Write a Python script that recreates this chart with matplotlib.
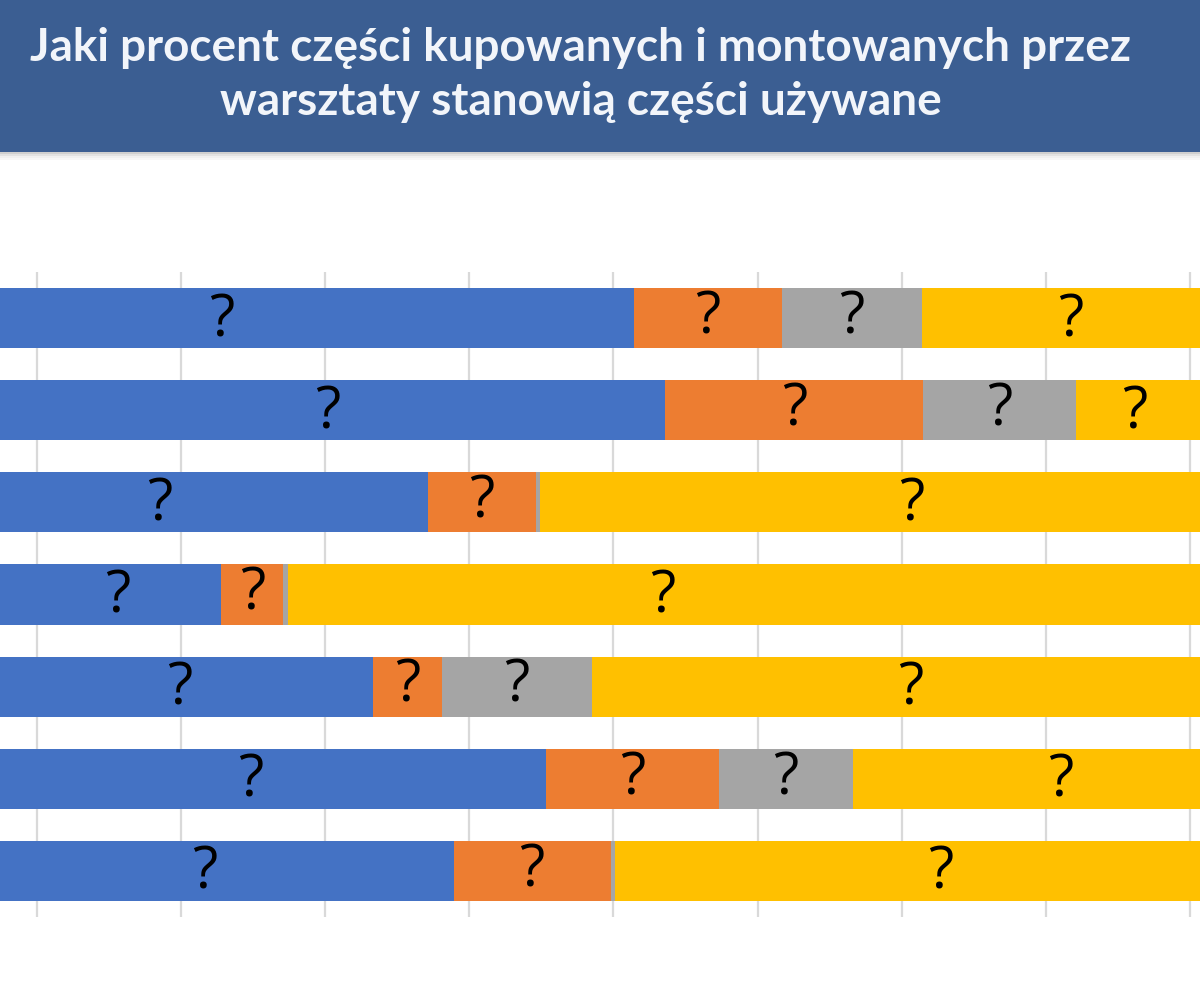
import matplotlib.pyplot as plt
import matplotlib.patches as mpatches
import numpy as np

# dane (udzialy w %)
rows = [0, 1, 2, 3, 4, 5, 6]
blue = [51.4, 53.6, 37.1, 22.8, 33.3, 45.3, 38.9]
orange = [10.3, 17.9, 7.5, 4.3, 4.8, 12.0, 10.9]
gray = [9.7, 10.6, 0.3, 0.3, 10.4, 9.3, 0.3]
yellow = [28.6, 17.9, 55.1, 72.6, 51.5, 33.4, 49.9]

# etykiety "?" dla skrajnych segmentow (wstawione recznie w oryginale)
blue_lab = [22.8, 30.2, 18.5, 15.6, 19.9, 24.8, 21.6]
yellow_lab = [81.7, 86.2, 70.7, 53.4, 70.6, 81.0, 72.7]

colors = ['#4472C4', '#ED7D31', '#A5A5A5', '#FFC000']
title = 'Jaki procent części kupowanych i montowanych przez\nwarsztaty stanowią części używane'

fig = plt.figure(figsize=(12, 10), dpi=100)

# naglowek
fig.patches.append(mpatches.Rectangle((0, 0.848), 1, 0.152, transform=fig.transFigure,
                                      facecolor='#3B5E92', edgecolor='none', zorder=1))
for i, a in enumerate([0.25, 0.15, 0.08, 0.04]):
    fig.patches.append(mpatches.Rectangle((0, 0.848 - 0.002 * (i + 1)), 1, 0.002,
                                          transform=fig.transFigure, facecolor='#404040',
                                          alpha=a, edgecolor='none', zorder=1))
fig.text(0.484, 0.925, title, ha='center', va='center', color='#F2F5FA',
         fontsize=33, fontweight='bold', family='Lato', linespacing=1.38, zorder=3)

ax = fig.add_axes([0, 0.083, 1, 0.645])
y = np.array(rows)
left = np.zeros(len(rows))
for vals, c in zip([blue, orange, gray, yellow], colors):
    ax.barh(y, vals, left=left, height=0.652, color=c, linewidth=0, zorder=2)
    left += np.array(vals)

kw = dict(ha='center', va='center', fontsize=42, family='Open Sans', color='black', zorder=4)
b = np.array(blue)
o = np.array(orange)
g = np.array(gray)
for i in rows:
    ax.text(blue_lab[i], i + 0.03, '?', **kw)
    ax.text(b[i] + o[i] / 2, i, '?', **kw)
    if g[i] > 1:
        ax.text(b[i] + o[i] + g[i] / 2, i, '?', **kw)
    ax.text(yellow_lab[i], i + 0.03, '?', **kw)

ax.set_xlim(7.43, 90.7)
ax.set_ylim(6.5, -0.5)
ax.set_xticks(np.arange(10, 100, 10))
ax.set_yticks([])
ax.tick_params(axis='x', length=0, labelbottom=False)
ax.grid(axis='x', color='#D9D9D9', linewidth=1.6, zorder=0)
ax.set_axisbelow(True)
for s in ax.spines.values():
    s.set_visible(False)

fig.savefig('out.png', dpi=100)
